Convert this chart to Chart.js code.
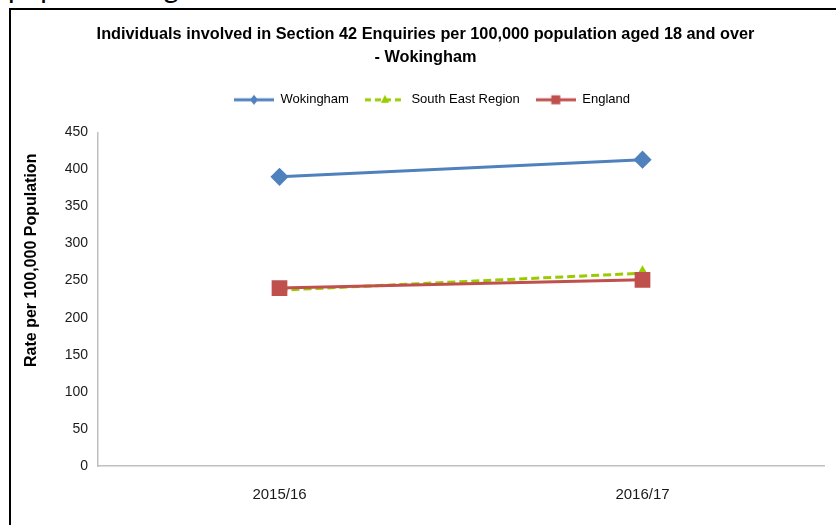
<!DOCTYPE html>
<html>
<head>
<meta charset="utf-8">
<script src="https://cdn.jsdelivr.net/npm/chart.js@4.4.0/dist/chart.umd.min.js"></script>
<style>
    body { margin: 0; background: #fff; overflow: hidden; }
    #doctext {
        position: absolute; left: 8px; top: -30px;
        font: 28.5px Lato, "Open Sans", sans-serif; color: #000; white-space: nowrap;
    }
    #frame {
        position: absolute; left: 9px; top: 8px;
        width: 900px; height: 600px; background: #fff;
        border-left: 2px solid #000; border-top: 2px solid #000;
    }
    #wrap { position: absolute; left: 0; top: 0; width: 825px; height: 515px; }
</style>
</head>
<body>
<div id="doctext">population aged 18 and over</div>
<div id="frame">
    <div id="wrap"><canvas id="linechart"></canvas></div>
</div>
<script>
// ข้อมูลของกราฟ
var years = ["2015/16", "2016/17"];
var wokingham = [390, 413];
var southEast = [237, 260];
var england = [240, 251];
var yTicks = [0, 50, 100, 150, 200, 250, 300, 350, 400, 450];

var titleLines = ["Individuals involved in Section 42 Enquiries per 100,000 population aged 18 and over", "- Wokingham"];
var yTitle = "Rate per 100,000 Population";

// legend icon: เส้น + marker ตรงกลาง
function legendIcon(color, dash, style) {
    var c = document.createElement("canvas");
    c.width = 40; c.height = 16;
    var g = c.getContext("2d");
    g.strokeStyle = color;
    g.lineWidth = 3;
    g.setLineDash(dash);
    g.beginPath(); g.moveTo(0, 8); g.lineTo(40, 8); g.stroke();
    g.setLineDash([]);
    g.fillStyle = color;
    g.beginPath();
    if (style == "diamond") {
        g.moveTo(20, 3); g.lineTo(24, 8); g.lineTo(20, 13); g.lineTo(16, 8);
    } else if (style == "triangle") {
        g.moveTo(20, 3); g.lineTo(24, 11); g.lineTo(16, 11);
    } else {
        g.rect(15.5, 3.5, 9, 9);
    }
    g.closePath(); g.fill();
    return c;
}
var icons = [
    legendIcon("#4f81bd", [], "diamond"),
    legendIcon("#99cc00", [6, 4], "triangle"),
    legendIcon("#c0504d", [], "square")
];

var yTitlePlugin = {
    id: "yTitle",
    afterDraw: function(chart) {
        var ctx = chart.ctx;
        ctx.save();
        ctx.font = "bold 16px 'Liberation Sans', Arial, sans-serif";
        ctx.fillStyle = "#000";
        ctx.textAlign = "center";
        ctx.textBaseline = "middle";
        ctx.translate(21, chart.chartArea.top + 128);
        ctx.rotate(-Math.PI / 2);
        ctx.fillText(yTitle, 0, 0);
        ctx.restore();
    }
};

// เว้นที่ใต้ legend และเลื่อน title/legend ไปทางขวานิดหน่อย
var legendGap = {
    id: "legendGap",
    beforeInit: function(chart) {
        var fit = chart.legend.fit;
        chart.legend.fit = function() {
            fit.bind(chart.legend)();
            this.height += 16;
        };
    },
    afterLayout: function(chart) {
        chart.legend.left = 17;
        chart.legend.right = chart.width;
        chart.titleBlock.left = 4;
        chart.titleBlock.right = chart.width;
    }
};

var ctx = document.getElementById("linechart").getContext("2d");
var chart = new Chart(ctx, {
    type: "line",
    data: {
        labels: years,
        datasets: [{
            label: "Wokingham",
            data: wokingham,
            borderColor: "#4f81bd",
            backgroundColor: "#4f81bd",
            borderWidth: 3,
            pointStyle: "rectRot",
            pointRadius: 7,
            order: 1
        }, {
            label: "South East Region",
            data: southEast,
            borderColor: "#99cc00",
            backgroundColor: "#99cc00",
            borderWidth: 3,
            borderDash: [8, 4],
            pointStyle: "triangle",
            pointRadius: 5,
            order: 2
        }, {
            label: "England",
            data: england,
            borderColor: "#c0504d",
            backgroundColor: "#c0504d",
            borderWidth: 3,
            pointStyle: "rect",
            pointRadius: 9,
            order: 0
        }]
    },
    options: {
        responsive: true,
        maintainAspectRatio: false,
        animation: false,
        layout: { padding: { left: 0, right: 11, top: 0, bottom: 0 } },
        plugins: {
            tooltip: { enabled: false },
            title: {
                display: true,
                text: titleLines,
                color: "#000",
                font: { family: "'Liberation Sans', Arial, sans-serif", size: 16.3, weight: "bold", lineHeight: 1.42 },
                padding: { top: 13, bottom: 8 }
            },
            legend: {
                display: true,
                labels: {
                    color: "#000",
                    font: { family: "'Liberation Sans', Arial, sans-serif", size: 13 },
                    usePointStyle: true,
                    pointStyleWidth: 40,
                    padding: 16,
                    generateLabels: function(chart) {
                        return chart.data.datasets.map(function(ds, i) {
                            return {
                                text: ds.label,
                                pointStyle: icons[i],
                                fillStyle: ds.borderColor,
                                strokeStyle: ds.borderColor,
                                lineWidth: 0,
                                fontColor: "#000",
                                hidden: false,
                                datasetIndex: i
                            };
                        });
                    }
                }
            }
        },
        scales: {
            x: {
                offset: true,
                grid: { display: false, drawTicks: false },
                border: { display: true, color: "#bfbfbf", width: 1.5 },
                ticks: {
                    color: "#1a1a1a",
                    padding: 20,
                    font: { family: "'Liberation Sans', Arial, sans-serif", size: 15 }
                },
                afterFit: function(scale) { scale.height = 59; }
            },
            y: {
                min: 0,
                max: 450,
                afterBuildTicks: function(scale) {
                    scale.ticks = yTicks.map(function(v) { return { value: v }; });
                },
                grid: { display: false, drawTicks: false },
                border: { display: true, color: "#bfbfbf", width: 1.5 },
                ticks: {
                    color: "#1a1a1a",
                    padding: 10,
                    font: { family: "'Liberation Sans', Arial, sans-serif", size: 14 }
                },
                afterFit: function(scale) { scale.width = 87; }
            }
        }
    },
    plugins: [yTitlePlugin, legendGap]
});
</script>
</body>
</html>
